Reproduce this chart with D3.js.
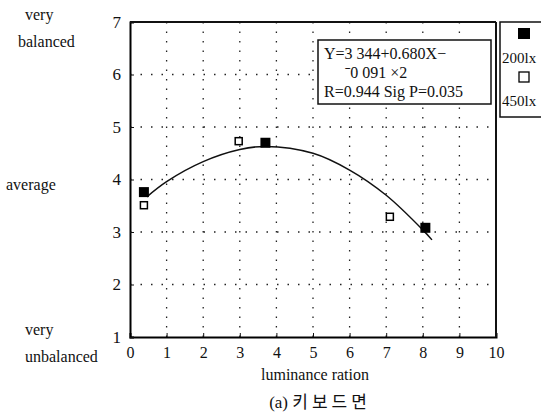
<!DOCTYPE html>
<html>
<head>
<meta charset="utf-8">
<script src="https://cdn.jsdelivr.net/npm/d3@7"></script>
<style>
	body { margin: 0; background: #fff; }
	svg text { font-family: "Liberation Serif", "DejaVu Serif", "Times New Roman", Times, serif; fill: #111; }
</style>
</head>
<body>
<div id="chart"></div>
<script>
// data
var xTicks = [0, 1, 2, 3, 4, 5, 6, 7, 8, 9, 10];
var yTicks = [1, 2, 3, 4, 5, 6, 7];
var lux200 = [[0.38, 3.76], [3.7, 4.70], [8.07, 3.08]];
var lux450 = [[0.38, 3.51], [2.97, 4.73], [7.1, 3.29]];
// fitted curve
var fitX = [0.46, 1, 2, 3, 3.7, 5, 6, 7, 8, 8.25];
var fitY = [3.67, 3.96, 4.34, 4.57, 4.63, 4.50, 4.18, 3.70, 3.04, 2.85];
var formulaLines = ["Y=3 344+0.680X\u2212", "\u02c90 091 \u00d72", "R=0.944 Sig P=0.035"];
var legendLabels = ["200lx", "450lx"];

const SERIF = '"Liberation Serif", "DejaVu Serif", "Times New Roman", Times, serif';

var width = 541, height = 415;
var margin = {top: 22, right: 44, bottom: 78, left: 130};

var svg = d3.select('#chart').append('svg')
	.attr('width', width)
	.attr('height', height);

var x = d3.scaleLinear().domain([0, 10]).range([margin.left, width - margin.right - 1]);
var y = d3.scaleLinear().domain([1, 7]).range([height - margin.bottom, margin.top]);

// dotted grid (sparse, like the scan)
var grid = svg.append('g').attr('stroke', '#222').attr('stroke-width', 1.3)
	.attr('stroke-dasharray', '1.5,8');
grid.selectAll('.gx').data(xTicks.slice(1, -1)).enter().append('line')
	.attr('x1', d => x(d)).attr('x2', d => x(d))
	.attr('y1', y(7)).attr('y2', y(1));
grid.selectAll('.gy').data(yTicks.slice(1, -1)).enter().append('line')
	.attr('y1', d => y(d)).attr('y2', d => y(d))
	.attr('x1', x(0)).attr('x2', x(10))
	.attr('stroke-dasharray', '1.5,9');

// axes
var xAxis = g => g
	.attr('transform', `translate(0, ${y(1)})`)
	.call(d3.axisBottom(x).tickValues(xTicks).tickFormat(d3.format('d')).tickSize(-4).tickPadding(10))
	.call(g => g.select('.domain').attr('stroke-width', 2));
var yAxis = g => g
	.attr('transform', `translate(${x(0)}, 0)`)
	.call(d3.axisLeft(y).tickValues(yTicks).tickFormat(d3.format('d')).tickSize(-4).tickPadding(9))
	.call(g => g.select('.domain').attr('stroke-width', 2));

svg.append('g').call(xAxis).attr('font-family', SERIF).attr('font-size', 16);
svg.append('g').call(yAxis).attr('font-family', SERIF).attr('font-size', 17);
svg.selectAll('.tick text').attr('fill', '#111').style('font-family', SERIF);
svg.selectAll('.tick line').attr('stroke', '#111');

// top and right border
svg.append('line').attr('x1', x(0)).attr('x2', x(10)).attr('y1', y(7)).attr('y2', y(7))
	.attr('stroke', '#111').attr('stroke-width', 2);
svg.append('line').attr('x1', x(10)).attr('x2', x(10)).attr('y1', y(7)).attr('y2', y(1))
	.attr('stroke', '#111').attr('stroke-width', 2);

// fitted curve
var fitData = fitX.map((d, i) => [d, fitY[i]]);
svg.append('path')
	.datum(fitData)
	.attr('fill', 'none')
	.attr('stroke', '#111')
	.attr('stroke-width', 1.5)
	.attr('d', d3.line().x(d => x(d[0])).y(d => y(d[1])).curve(d3.curveCatmullRom));

// markers
svg.append('g').selectAll('rect').data(lux200).enter().append('rect')
	.attr('x', d => x(d[0]) - 5).attr('y', d => y(d[1]) - 5)
	.attr('width', 10).attr('height', 10)
	.attr('fill', '#000');
svg.append('g').selectAll('rect').data(lux450).enter().append('rect')
	.attr('x', d => x(d[0]) - 3.5).attr('y', d => y(d[1]) - 3.5)
	.attr('width', 7).attr('height', 7)
	.attr('fill', '#fff').attr('stroke', '#000').attr('stroke-width', 1.5);

// formula box
var fb = svg.append('g');
fb.append('rect').attr('x', 318).attr('y', 40).attr('width', 173).attr('height', 64)
	.attr('fill', '#fff').attr('stroke', '#111').attr('stroke-width', 1.5);
fb.selectAll('text').data(formulaLines).enter().append('text')
	.attr('x', (d, i) => i == 1 ? 345 : 324)
	.attr('y', (d, i) => 59 + i * 19)
	.style('font-size', '16px')
	.text(d => d);

// legend
var lg = svg.append('g');
lg.append('rect').attr('x', 500).attr('y', 22).attr('width', 50).attr('height', 95)
	.attr('fill', '#fff').attr('stroke', '#111').attr('stroke-width', 1.5);
lg.append('rect').attr('x', 518).attr('y', 28).attr('width', 12).attr('height', 11).attr('fill', '#000');
lg.append('rect').attr('x', 519).attr('y', 72).attr('width', 10).attr('height', 10)
	.attr('fill', '#fff').attr('stroke', '#000').attr('stroke-width', 1.3);
lg.selectAll('text').data(legendLabels).enter().append('text')
	.attr('x', 502)
	.attr('y', (d, i) => 63 + i * 43)
	.style('font-size', '15px')
	.text(d => d);

// side labels
var side = [
	{t: 'very', x: 25, y: 20},
	{t: 'balanced', x: 18, y: 47},
	{t: 'average', x: 6, y: 190},
	{t: 'very', x: 25, y: 335},
	{t: 'unbalanced', x: 25, y: 362}
];
svg.append('g').selectAll('text').data(side).enter().append('text')
	.attr('x', d => d.x).attr('y', d => d.y)
	.style('font-size', '16px')
	.text(d => d.t);

// axis title and caption
svg.append('text').attr('x', 315).attr('y', 380).attr('text-anchor', 'middle')
	.style('font-size', '16px').text('luminance ration');
var cap = svg.append('text').attr('x', 320).attr('y', 408).attr('text-anchor', 'middle')
	.style('font-size', '17px')
	.style('font-family', '"Liberation Serif", "Noto Sans CJK KR", serif');
cap.append('tspan').text('(a) ');
cap.append('tspan').style('letter-spacing', '4px').text('키보드면');
</script>
</body>
</html>
